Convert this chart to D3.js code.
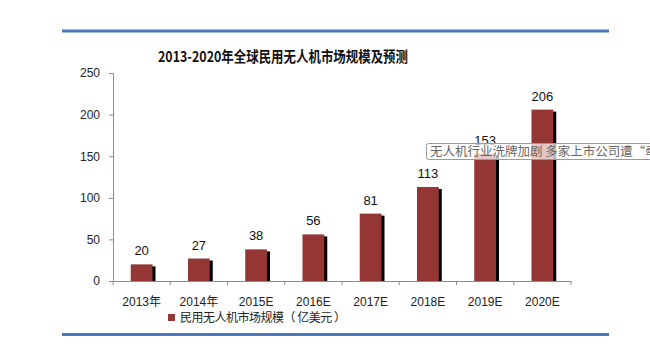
<!DOCTYPE html>
<html><head><meta charset="utf-8">
<script src="https://cdn.jsdelivr.net/npm/d3@7"></script>
<style>body{margin:0;background:#fff}svg{display:block}</style>
</head><body>
<svg id="c" width="650" height="347"></svg>
<script>
const categories = ["2013年","2014年","2015E","2016E","2017E","2018E","2019E","2020E"];
const values = [20,27,38,56,81,113,153,206];
const yTicks = [0,50,100,150,200,250];
const title = "2013-2020年全球民用无人机市场规模及预测";
const legendLabel = "民用无人机市场规模（ 亿美元 ）";
const tooltipText = "无人机行业洗牌加剧 多家上市公司遭“牵";

const svg = d3.select("#c");
const font = "'Liberation Sans', Arial, 'Noto Sans CJK SC', sans-serif";
const x = d3.scaleBand().domain(categories).range([113, 571]).paddingInner(0.62).paddingOuter(0.31);
const xb = d3.scaleBand().domain(categories).range([113, 571]);
const y = d3.scaleLinear().domain([0, 250]).range([281, 73]);

// top & bottom blue rules
svg.append("rect").attr("x",62).attr("y",29.5).attr("width",547).attr("height",3).attr("fill","#4a78be");
svg.append("rect").attr("x",62).attr("y",333).attr("width",547).attr("height",3).attr("fill","#4a78be");

svg.append("text").attr("x",283).attr("y",62).attr("text-anchor","middle")
  .attr("font-family","'Noto Sans CJK SC', sans-serif").attr("font-weight","bold")
  .attr("font-size",15).attr("textLength",250).attr("lengthAdjust","spacingAndGlyphs")
  .attr("fill","#111").text(title);

// y axis
const ya = svg.append("g").attr("transform","translate(113,0)")
  .call(d3.axisLeft(y).tickValues(yTicks).tickSize(4).tickPadding(9));
ya.select(".domain").attr("stroke","#8c8c8c");
ya.selectAll(".tick line").attr("stroke","#8c8c8c");
ya.selectAll("text").attr("font-family",font).attr("font-size",12).attr("fill","#222");

// x axis
const xa = svg.append("g").attr("transform","translate(0,281)")
  .call(d3.axisBottom(xb).tickSize(0).tickPadding(16));
xa.select(".domain").attr("stroke","#8c8c8c");
xa.selectAll("text").attr("font-family",font).attr("font-size",12).attr("fill","#222");
xa.selectAll(".bt").data(categories.concat(["end"])).enter().append("line")
  .attr("x1",(d,i)=>113+i*xb.bandwidth()).attr("x2",(d,i)=>113+i*xb.bandwidth())
  .attr("y1",0).attr("y2",4).attr("stroke","#8c8c8c");

// shadows
svg.selectAll(".sh").data(values).enter().append("rect")
  .attr("x",(d,i)=>x(categories[i])+3).attr("y",d=>y(d)+2)
  .attr("width",x.bandwidth()).attr("height",d=>281-y(d)-2).attr("fill","#000");
// bars
svg.selectAll(".bar").data(values).enter().append("rect")
  .attr("x",(d,i)=>x(categories[i])).attr("y",d=>y(d))
  .attr("width",x.bandwidth()).attr("height",d=>281-y(d)).attr("fill","#943634");
// labels
svg.selectAll(".lbl").data(values).enter().append("text")
  .attr("x",(d,i)=>x(categories[i])+x.bandwidth()/2).attr("y",d=>y(d)-9)
  .attr("text-anchor","middle").attr("font-family",font).attr("font-size",13).attr("fill","#111")
  .text(d=>d);

// legend
svg.append("rect").attr("x",168).attr("y",314).attr("width",7).attr("height",7).attr("fill","#943634");
svg.append("text").attr("x",180).attr("y",322).attr("font-family","'Noto Sans CJK SC', sans-serif")
  .attr("font-size",12).attr("textLength",166).attr("lengthAdjust","spacing")
  .attr("fill","#222").text(legendLabel);

// tooltip overlay
svg.append("rect").attr("x",426.5).attr("y",143.5).attr("width",240).attr("height",16).attr("rx",2)
  .attr("fill","rgba(255,255,255,0.72)").attr("stroke","#9a9a9a");
svg.append("text").attr("x",430).attr("y",156).attr("font-family","'Noto Sans CJK SC', sans-serif")
  .attr("font-size",12.5).attr("fill","#666").text(tooltipText);
</script>
</body></html>
